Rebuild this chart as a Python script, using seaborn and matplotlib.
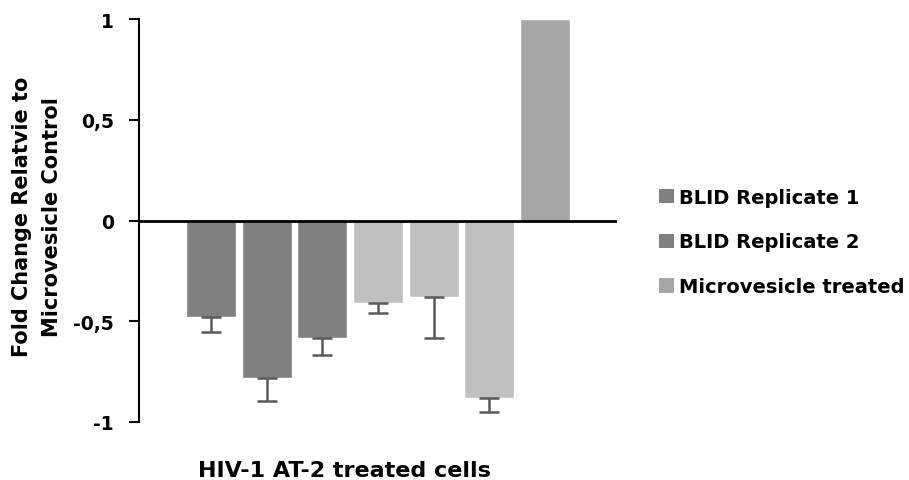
import matplotlib
matplotlib.use("Agg")
import matplotlib.pyplot as plt
import seaborn as sns
import pandas as pd
from matplotlib.patches import Patch

# Data
bars = ["1", "2", "3", "4", "5", "6", "7"]
values = [-0.48, -0.78, -0.585, -0.407, -0.38, -0.88, 1.0]
errors = [0.075, 0.115, 0.083, 0.05, 0.205, 0.07, 0.0]
bar_colors = ["#808080", "#808080", "#808080", "#c0c0c0", "#c0c0c0", "#c0c0c0", "#a6a6a6"]
legend_labels = ["BLID Replicate 1", "BLID Replicate 2", "Microvesicle treated"]
legend_colors = ["#808080", "#808080", "#a6a6a6"]
yticks = [-1, -0.5, 0, 0.5, 1]
ytick_labels = ["-1", "-0,5", "0", "0,5", "1"]

sns.set_style("white")
plt.rcParams['font.family'] = ['DejaVu Sans']
plt.rcParams['text.color'] = 'black'
plt.rcParams['ytick.labelcolor'] = 'black'
plt.rcParams['ytick.color'] = 'black'

fig = plt.figure(figsize=(9.09, 4.81), dpi=100)
ax = fig.add_axes([139/909, 1-423/481, (617-139)/909, (423-20)/481])

df = pd.DataFrame({"bar": bars, "value": values})
sns.barplot(data=df, x="bar", y="value", hue="bar", palette=bar_colors,
            width=0.9, legend=False, ax=ax, saturation=1, errorbar=None)

xs = list(range(len(bars)))
lower = list(errors)
upper = [0 for _ in errors]
ax.errorbar(xs[:6], values[:6], yerr=[lower[:6], upper[:6]], fmt="none",
            ecolor="#595959", elinewidth=1.8, capsize=7, capthick=1.8)

ax.set_xlim(-1.29, 7.29)
ax.set_ylim(-1, 1)
ax.set_yticks(yticks)
ax.set_yticklabels(ytick_labels, fontsize=13.5, fontweight="bold", color="black")
ax.set_xticks([])
ax.set_xlabel("")
ax.set_ylabel("")
ax.tick_params(axis="y", left=True, direction="out", length=7, width=1.5,
               color="black", pad=11)

for s in ["top", "right", "bottom"]:
    ax.spines[s].set_visible(False)
ax.spines["left"].set_color("black")
ax.spines["left"].set_linewidth(1.5)
ax.axhline(0, color="black", lw=2, zorder=5)

fig.text(37/909, 1-217/481, "Fold Change Relatvie to\nMicrovesicle Control",
         rotation=90, ha="center", va="center", multialignment="center",
         fontsize=15, fontweight="bold", linespacing=1.6, color="black")

fig.text(344/909, 1-477/481, "HIV-1 AT-2 treated cells", ha="center", va="baseline",
         fontsize=16, fontweight="bold", color="black")

handles = [Patch(facecolor=c, edgecolor="none") for c in legend_colors]
leg = fig.legend(handles, legend_labels, loc="center left",
                 bbox_to_anchor=(659/909, 1-243/481), frameon=False, borderpad=0,
                 borderaxespad=0,
                 prop={"size": 14, "weight": "bold"}, handlelength=0.75,
                 handleheight=0.75, handletextpad=0.3, labelspacing=1.33)
for t in leg.get_texts():
    t.set_color("black")

fig.savefig("out.png", dpi=100)
